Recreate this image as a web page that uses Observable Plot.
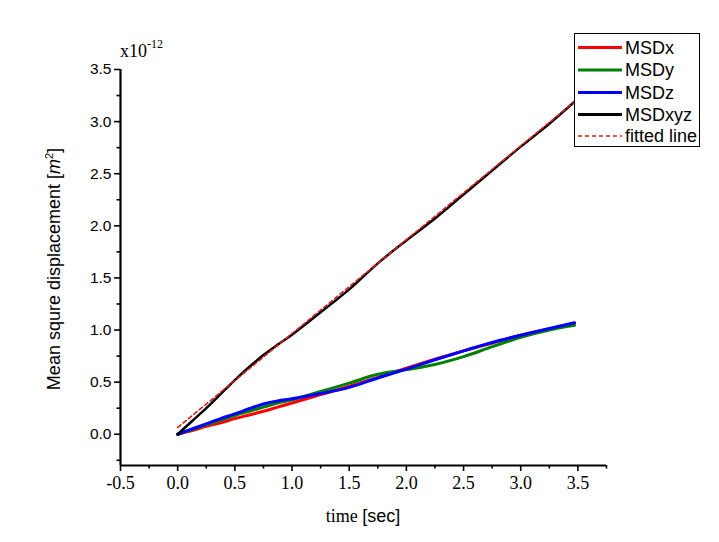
<!DOCTYPE html>
<html><head><meta charset="utf-8">
<script src="https://cdn.jsdelivr.net/npm/d3@7"></script>
<script src="https://cdn.jsdelivr.net/npm/@observablehq/plot@0.6"></script>
<style>
body{margin:0;background:#fff}
#chart{position:relative;width:719px;height:542px}
#legend{position:absolute;left:574px;top:33px}
</style>
</head><body><div id="chart"></div>
<script>
const time  = [0, 0.125, 0.25, 0.375, 0.5, 0.625, 0.75, 0.875, 1.0, 1.25, 1.5, 1.75, 2.0, 2.25, 2.5, 2.75, 3.0, 3.25, 3.47];
const msdx  = [0, 0.035, 0.075, 0.11, 0.15, 0.185, 0.22, 0.26, 0.30, 0.38, 0.46, 0.545, 0.635, 0.72, 0.80, 0.875, 0.95, 1.01, 1.065];
const msdy  = [0, 0.045, 0.09, 0.135, 0.18, 0.22, 0.26, 0.30, 0.33, 0.41, 0.49, 0.575, 0.62, 0.67, 0.745, 0.84, 0.93, 1.0, 1.045];
const msdz  = [0, 0.05, 0.10, 0.15, 0.195, 0.245, 0.29, 0.32, 0.34, 0.39, 0.45, 0.54, 0.625, 0.715, 0.80, 0.88, 0.95, 1.015, 1.07];
const msdxyz= [0, 0.125, 0.25, 0.385, 0.52, 0.645, 0.76, 0.86, 0.955, 1.17, 1.39, 1.64, 1.86, 2.07, 2.30, 2.53, 2.76, 2.98, 3.19];
const fitTime  = [0, 3.47];
const fitValue = [0.065, 3.19];

const seriesNames  = ["MSDx", "MSDy", "MSDz", "MSDxyz"];
const seriesColors = ["#ff0000", "#008000", "#0000ff", "#000000"];
const fitName  = "fitted line";
const fitColor = "#d81e1e";

const xTicks = [-0.5, 0, 0.5, 1.0, 1.5, 2.0, 2.5, 3.0, 3.5];
const xMinor = [-0.25, 0.25, 0.75, 1.25, 1.75, 2.25, 2.75, 3.25, 3.75];
const yTicks = [0, 0.5, 1.0, 1.5, 2.0, 2.5, 3.0, 3.5];
const yMinor = [-0.25, 0.25, 0.75, 1.25, 1.75, 2.25, 2.75, 3.25];

const rows = (name, vals) => time.map((t, i) => ({t, v: vals[i], s: name}));
const colored = [...rows("MSDx", msdx), ...rows("MSDy", msdy), ...rows("MSDz", msdz)];
const total = rows("MSDxyz", msdxyz);
const fit = fitTime.map((t, i) => ({t, v: fitValue[i]}));

const svg = Plot.plot({
  width: 719, height: 542,
  marginLeft: 120, marginRight: 113, marginTop: 69, marginBottom: 77,
  x: {domain: [-0.5, 3.75], axis: null},
  y: {domain: [-0.3, 3.5], axis: null},
  color: {domain: seriesNames, range: seriesColors},
  style: {background: "white", overflow: "visible"},
  marks: [
    Plot.line(colored, {x: "t", y: "v", z: "s", stroke: "s", strokeWidth: 3, curve: "catmull-rom"}),
    Plot.line(total, {x: "t", y: "v", stroke: "s", strokeWidth: 2.5, curve: "catmull-rom"}),
    Plot.line(fit, {x: "t", y: "v", stroke: fitColor, strokeWidth: 1.6, strokeDasharray: "4,3"}),
    Plot.axisX(xTicks, {label: null, tickSize: 6, strokeWidth: 1.6, tickPadding: 5, fontFamily: "Liberation Serif", fontSize: 18, tickFormat: d => d.toFixed(1)}),
    Plot.axisX(xMinor, {label: null, tickSize: 3.5, strokeWidth: 1.6, text: null}),
    Plot.axisY(yTicks, {label: null, tickSize: 6, strokeWidth: 1.6, tickPadding: 3, fontFamily: "Liberation Sans", fontSize: 15.5, tickFormat: d => d.toFixed(1)}),
    Plot.axisY(yMinor, {label: null, tickSize: 3.5, strokeWidth: 1.6, text: null}),
    Plot.ruleX([-0.5], {strokeWidth: 2.2}),
    Plot.ruleY([-0.3], {strokeWidth: 2.2})
  ]
});

const s = d3.select(svg);
// y-axis title
const yt = s.append("text")
  .attr("transform", "translate(60,269) rotate(-90)")
  .attr("text-anchor", "middle")
  .attr("font-family", "Liberation Sans, Arial, sans-serif")
  .attr("font-size", 18).attr("fill", "black");
yt.append("tspan").text("Mean squre displacement [");
yt.append("tspan").attr("font-style", "italic").text("m");
yt.append("tspan").attr("font-size", 11).attr("dy", -7).text("2");
yt.append("tspan").attr("dy", 7).text("]");
// x-axis title
const xt = s.append("text")
  .attr("x", 363).attr("y", 522).attr("text-anchor", "middle")
  .attr("font-size", 18).attr("fill", "black");
xt.append("tspan").attr("font-family", "Liberation Serif, serif").text("time ");
xt.append("tspan").attr("font-family", "Liberation Sans, sans-serif").text("[sec]");
// exponent
const ex = s.append("text")
  .attr("x", 120).attr("y", 57).attr("text-anchor", "start")
  .attr("font-family", "Liberation Serif, serif").attr("font-size", 18).attr("fill", "black");
ex.append("tspan").text("x10");
ex.append("tspan").attr("font-size", 12).attr("dy", -9).text("-12");

document.getElementById("chart").appendChild(svg);

// legend
const entries = seriesNames.map((n, i) => ({name: n, color: seriesColors[i], dash: null, w: 3}))
  .concat([{name: fitName, color: fitColor, dash: "4,3", w: 1.6}]);
const lg = d3.select("#chart").append("svg").attr("id", "legend")
  .attr("width", 126).attr("height", 114);
lg.append("rect").attr("x", 0.5).attr("y", 0.5).attr("width", 125).attr("height", 113)
  .attr("fill", "white").attr("stroke", "black").attr("stroke-width", 1);
const ys = [14.5, 37, 59.5, 81.5, 103];
entries.forEach((e, i) => {
  lg.append("line").attr("x1", 4).attr("x2", 48).attr("y1", ys[i]).attr("y2", ys[i])
    .attr("stroke", e.color).attr("stroke-width", e.w).attr("stroke-dasharray", e.dash);
  lg.append("text").attr("x", 51).attr("y", ys[i]).attr("dy", "0.36em")
    .attr("font-family", "Liberation Sans, Arial, sans-serif").attr("font-size", 18)
    .attr("fill", "black").text(e.name);
});
</script>
</body></html>
